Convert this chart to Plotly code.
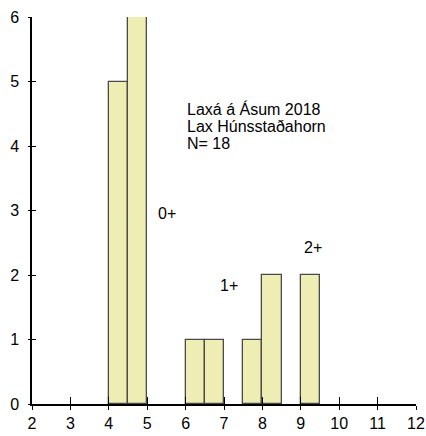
import plotly.graph_objects as go

bin_starts = [4.0, 4.5, 6.0, 6.5, 7.5, 8.0, 9.0]
counts = [5, 6, 1, 1, 1, 2, 2]
bin_width = 0.5

title_lines = ["Laxá á Ásum 2018", "Lax Húnsstaðahorn", "N= 18"]
age_labels = ["0+", "1+", "2+"]
age_x = [5.23, 6.84, 9.04]
age_y = [2.96, 1.83, 2.43]

x_ticks = list(range(2, 13))
y_ticks = list(range(0, 7))

font = dict(family="Liberation Sans, Arial, sans-serif", size=16, color="black")

fig = go.Figure()
fig.add_trace(go.Bar(
    x=[s + bin_width / 2 for s in bin_starts],
    y=counts,
    width=[bin_width] * len(counts),
    marker=dict(color="#EEEEB4", line=dict(color="#4a4a4a", width=1.3)),
    showlegend=False,
    hoverinfo="skip",
))
# invisible trace to anchor the overlay axes (cross-ticks)
fig.add_trace(go.Scatter(x=[2, 12], y=[0, 6], xaxis="x2", yaxis="y2",
                         mode="markers", marker=dict(opacity=0),
                         showlegend=False, hoverinfo="skip"))

fig.update_layout(
    width=426, height=436,
    margin=dict(l=32, r=10, t=17, b=32, autoexpand=False),
    plot_bgcolor="white", paper_bgcolor="white",
    font=font,
    bargap=0,
    xaxis=dict(range=[2, 12], tickvals=x_ticks, ticks="outside", ticklen=4,
               tickcolor="black", tickwidth=1.2, showline=True, linecolor="black",
               linewidth=1.5, showgrid=False, zeroline=False, tickfont=font,
               automargin=False),
    yaxis=dict(range=[0, 6], tickvals=y_ticks, ticks="outside", ticklen=2,
               tickcolor="black", tickwidth=1.2, showline=True, linecolor="black",
               linewidth=1.5, showgrid=False, zeroline=False, tickfont=font,
               ticklabelstandoff=6, automargin=False),
    xaxis2=dict(range=[2, 12], tickvals=x_ticks, ticks="inside", ticklen=7,
                tickcolor="black", tickwidth=1.2, showticklabels=False,
                overlaying="x", anchor="y2", showgrid=False, zeroline=False),
    yaxis2=dict(range=[0, 6], tickvals=y_ticks, ticks="inside", ticklen=4,
                tickcolor="black", tickwidth=1.2, showticklabels=False,
                overlaying="y", anchor="x2", showgrid=False, zeroline=False),
)

for i, line in enumerate(title_lines):
    fig.add_annotation(x=5.99, y=4.58 - i * 0.27, text=line, showarrow=False,
                       xanchor="left", yanchor="middle", font=font)
for lab, ax, ay in zip(age_labels, age_x, age_y):
    fig.add_annotation(x=ax, y=ay, text=lab, showarrow=False,
                       xanchor="left", yanchor="middle", font=font)

fig.write_html(
    "out.html",
    config={"displayModeBar": False},
    post_script="document.body.style.margin='0';"
                "document.documentElement.style.overflow='hidden';"
                "document.body.style.overflow='hidden';",
)
